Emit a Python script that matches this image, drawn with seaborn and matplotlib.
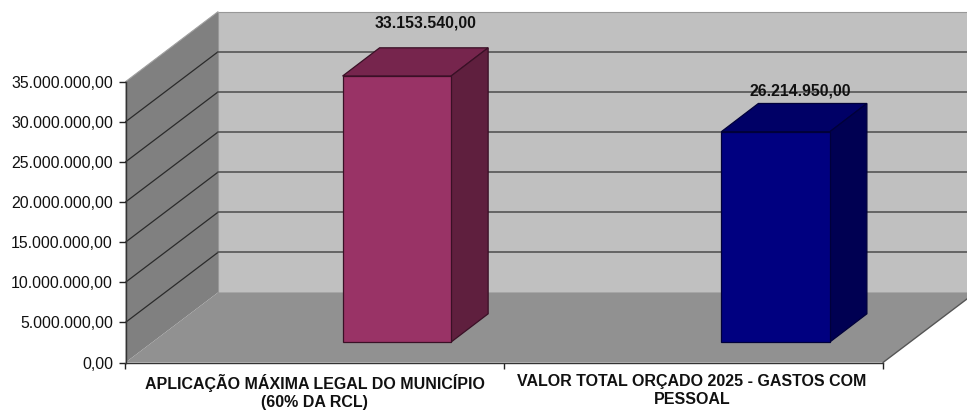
import matplotlib
matplotlib.use('Agg')
import matplotlib.pyplot as plt
import numpy as np
import seaborn as sns
from matplotlib.patches import Polygon
from matplotlib.transforms import IdentityTransform

# valores do gráfico
categorias = ['APLICAÇÃO MÁXIMA LEGAL DO MUNICÍPIO\n(60% DA RCL)',
              'VALOR TOTAL ORÇADO 2025 - GASTOS COM\nPESSOAL']
valores = [33153540.00, 26214950.00]
rotulos = ['33.153.540,00', '26.214.950,00']
y_ticks = [0, 5000000, 10000000, 15000000, 20000000, 25000000, 30000000, 35000000]
y_labels = ['0,00', '5.000.000,00', '10.000.000,00', '15.000.000,00',
            '20.000.000,00', '25.000.000,00', '30.000.000,00', '35.000.000,00']

# cores: frente, topo, lado
cor_frente = ['#993366', '#000080']
cor_topo = ['#76254D', '#000066']
cor_lado = ['#5F1F3E', '#000052']
cor_borda = ['#3A1026', '#00003A']

W, H = 967, 411
DX, DY = 92.5, 70      # profundidade das paredes, em pixels
BAR_DX, BAR_DY = 37, 28.2  # profundidade das barras

sns.set_theme(style='white')
plt.rcParams['font.family'] = ['Liberation Sans', 'DejaVu Sans']

fig = plt.figure(figsize=(W / 100, H / 100), dpi=100)
ax = fig.add_axes([125.5 / W, (H - 362.5) / H, 757.5 / W, 280.8 / H])
ax.set_xlim(-0.5, 1.5)
ax.set_ylim(0, 35000000)
ax.patch.set_visible(False)


def pt(x, y, d=0.0):
    # ponto do gráfico em pixels, d=1 é o fundo
    px = ax.transData.transform((x, y))
    return px[0] + d * DX, px[1] + d * DY


def face(pts, color, edge='none', lw=0.0, zorder=1):
    fig.add_artist(Polygon(pts, closed=True, facecolor=color, edgecolor=edge, linewidth=lw,
                           transform=IdentityTransform(), zorder=zorder))


def linha(pts, color, lw, zorder=1.5):
    xs, ys = zip(*pts)
    fig.add_artist(plt.Line2D(xs, ys, color=color, linewidth=lw,
                              transform=IdentityTransform(), zorder=zorder))


topo = y_ticks[-1]
# parede do fundo, parede esquerda e chão
face([pt(-0.5, 0, 1), pt(1.5, 0, 1), pt(1.5, topo, 1), pt(-0.5, topo, 1)], '#C0C0C0', '#989898', 0.8)
face([pt(-0.5, 0), pt(-0.5, 0, 1), pt(-0.5, topo, 1), pt(-0.5, topo)], '#808080')
face([pt(-0.5, 0), pt(1.5, 0), pt(1.5, 0, 1), pt(-0.5, 0, 1)], '#919191')
linha([pt(1.5, 0), pt(1.5, 0, 1)], '#555555', 1.0)

for v in y_ticks[1:-1]:
    linha([pt(-0.5, v), pt(-0.5, v, 1)], '#2B2B2B', 0.9)
    linha([pt(-0.5, v, 1), pt(1.5, v, 1)], '#555555', 1.2)
linha([pt(-0.5, topo), pt(-0.5, topo, 1)], '#A0A0A0', 0.8)

# eixos
ax.set_yticks(y_ticks, y_labels, fontsize=11.4, color='#111111')
ax.set_xticks([-0.5, 0.5, 1.5], ['', '', ''])
ax.set_xticks([0, 0.995], categorias, minor=True, fontsize=11.55, fontweight='bold',
              color='#111111', linespacing=1.25)
ax.tick_params(axis='y', which='major', left=True, length=5, width=1, color='#222222', pad=4)
ax.tick_params(axis='x', which='major', bottom=True, length=4, width=1, color='#222222')
ax.tick_params(axis='x', which='minor', bottom=False, length=0, pad=8)
sns.despine(ax=ax, top=True, right=True)
for s in ['left', 'bottom']:
    ax.spines[s].set_color('#333333')
    ax.spines[s].set_linewidth(1.0)
ax.set_xlabel('')
ax.set_ylabel('')

# as barras ficam num segundo eixo, deslocado para dentro do chão
bar_ax = fig.add_axes([(125.5 + 82.0) / W, (H - 342.0) / H, 757.5 / W, 280.8 / H], zorder=3)
sns.barplot(x=categorias, y=valores, hue=categorias, palette=cor_frente, width=0.2866,
            legend=False, saturation=1, ax=bar_ax)
bar_ax.set_xlim(-0.5, 1.5)
bar_ax.set_ylim(0, 35000000)
bar_ax.set_axis_off()

offset_label = [(29, 53.5), (25, 41)]
for i, p in enumerate(bar_ax.patches[:len(valores)]):
    p.set_clip_on(False)
    p.set_edgecolor(cor_borda[i])
    p.set_linewidth(0.9)
    x0, x1 = p.get_x(), p.get_x() + p.get_width()
    h = p.get_height()
    (ax0, ay0) = bar_ax.transData.transform((x0, 0))
    (ax1, ay1) = bar_ax.transData.transform((x1, h))
    # topo e lado da barra
    face([(ax0, ay1), (ax1, ay1), (ax1 + BAR_DX, ay1 + BAR_DY), (ax0 + BAR_DX, ay1 + BAR_DY)],
         cor_topo[i], cor_borda[i], 0.9, zorder=4)
    face([(ax1, ay0), (ax1 + BAR_DX, ay0 + BAR_DY), (ax1 + BAR_DX, ay1 + BAR_DY), (ax1, ay1)],
         cor_lado[i], cor_borda[i], 0.9, zorder=4)
    bar_ax.annotate(rotulos[i], xy=(x0 + p.get_width() / 2, h), xycoords='data',
                    xytext=offset_label[i], textcoords='offset pixels', ha='center', va='center',
                    fontsize=11.3, fontweight='bold', color='#111111', annotation_clip=False, zorder=6)

# fig.add_artist desenha antes dos eixos, os rótulos precisam ficar por cima das faces
bar_ax.set_zorder(5)
bar_ax.patch.set_visible(False)
ax.set_zorder(2)

fig.savefig('out.png', dpi=100)
